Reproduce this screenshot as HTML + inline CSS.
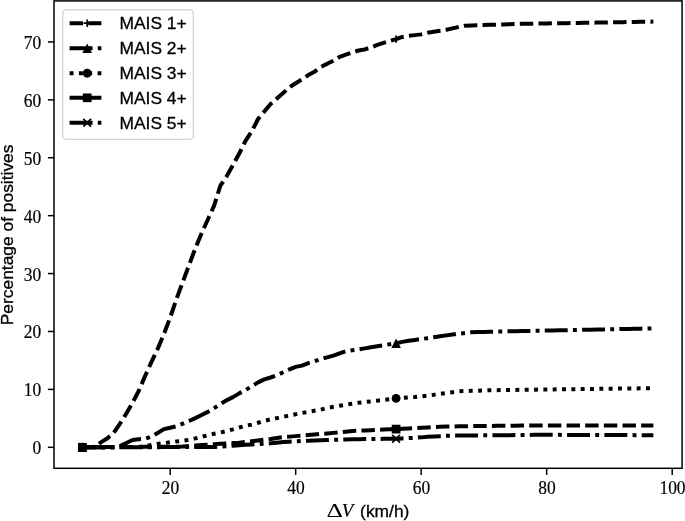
<!DOCTYPE html>
<html><head><meta charset="utf-8"><title>Percentage of positives</title>
<style>
html,body{margin:0;padding:0;background:#fff;overflow:hidden}
svg{display:block}
.t{font-family:"Liberation Serif","DejaVu Serif",serif;font-size:18.0px;fill:#000;stroke:#000;stroke-width:0.18px}
.s{font-family:"Liberation Sans","DejaVu Sans",sans-serif;font-size:17.4px;fill:#000;stroke:#000;stroke-width:0.3px}
.d{font-family:"Liberation Serif","DejaVu Serif",serif;font-size:18.8px;fill:#000}
.i{font-family:"Liberation Serif","DejaVu Serif",serif;font-size:18.8px;font-style:italic;fill:#000;stroke:#000;stroke-width:0.2px}
</style></head><body>
<svg width="685" height="521" viewBox="0 0 685 521">
<rect width="685" height="521" fill="#fff"/>
<g>
<path d="M82.35 447.30 L88.62 447.30 L94.90 446.77 L101.18 442.09 L107.45 438.25 L113.73 432.73 L120.00 423.60 L126.28 413.49 L132.55 402.85 L138.82 390.74 L145.10 375.97 L151.38 362.13 L157.65 348.94 L163.93 334.10 L170.20 317.41 L176.48 298.93 L182.75 282.01 L189.03 265.22 L195.30 248.45 L201.57 233.30 L207.85 219.54 L214.12 205.61 L220.40 185.63 L226.68 176.34 L232.95 165.00 L239.23 153.51 L245.50 140.78 L251.78 131.33 L258.05 119.03 L264.32 111.47 L270.60 104.00 L276.88 98.42 L283.15 93.07 L289.43 87.39 L295.70 83.22 L301.98 79.35 L308.25 75.06 L314.52 71.72 L320.80 67.12 L327.07 63.69 L333.35 60.74 L339.62 56.94 L345.90 54.72 L352.18 52.46 L358.45 50.53 L364.73 49.41 L371.00 47.40 L377.28 44.92 L383.55 42.92 L389.82 41.02 L396.10 39.16 L402.38 36.94 L408.65 35.89 L414.93 35.13 L421.20 34.37 L427.48 32.71 L433.75 31.77 L440.03 30.82 L446.30 29.81 L452.57 28.34 L458.85 26.88 L465.12 25.67 L471.40 25.46 L477.68 25.25 L483.95 25.05 L490.23 24.84 L496.50 24.63 L502.78 24.42 L509.05 24.22 L515.33 24.01 L521.60 23.85 L527.88 23.75 L534.15 23.65 L540.43 23.55 L546.70 23.45 L552.98 23.35 L559.25 23.25 L565.53 23.15 L571.80 23.05 L578.08 22.95 L584.35 22.85 L590.63 22.74 L596.90 22.62 L603.18 22.51 L609.45 22.40 L615.73 22.28 L622.00 22.17 L628.28 22.06 L634.55 21.94 L640.83 21.83 L647.10 21.71 L653.38 21.60" fill="none" stroke="#000" stroke-width="4.0" stroke-dasharray="13.424,5.232" stroke-dashoffset="1.0" stroke-linejoin="round"/>
<path d="M78.65 447.30H86.05M82.35 443.60V451.00" stroke="#000" stroke-width="1.7" fill="none"/>
<path d="M392.40 39.16H399.80M396.10 35.46V42.86" stroke="#000" stroke-width="1.7" fill="none"/>
<path d="M82.35 447.30 L88.62 447.30 L94.90 447.30 L101.18 447.30 L107.45 447.30 L113.73 447.30 L120.00 446.00 L126.28 443.00 L132.55 440.01 L138.82 439.23 L145.10 438.80 L151.38 436.70 L157.65 433.04 L163.93 429.09 L170.20 427.74 L176.48 426.22 L182.75 423.72 L189.03 421.01 L195.30 418.11 L201.57 414.99 L207.85 411.87 L214.12 408.15 L220.40 403.92 L226.68 400.26 L232.95 397.12 L239.23 393.37 L245.50 390.04 L251.78 386.35 L258.05 382.42 L264.32 379.38 L270.60 377.50 L276.88 375.20 L283.15 372.28 L289.43 369.39 L295.70 366.86 L301.98 365.66 L308.25 363.07 L314.52 361.31 L320.80 359.15 L327.07 357.34 L333.35 355.59 L339.62 353.31 L345.90 351.25 L352.18 350.33 L358.45 349.40 L364.73 348.35 L371.00 347.28 L377.28 346.20 L383.55 345.19 L389.82 344.23 L396.10 343.26 L402.38 341.85 L408.65 340.80 L414.93 339.92 L421.20 339.04 L427.48 338.16 L433.75 337.24 L440.03 336.30 L446.30 335.36 L452.57 334.43 L458.85 333.65 L465.12 332.93 L471.40 332.20 L477.68 332.05 L483.95 331.89 L490.23 331.74 L496.50 331.59 L502.78 331.44 L509.05 331.32 L515.33 331.19 L521.60 331.06 L527.88 330.94 L534.15 330.81 L540.43 330.68 L546.70 330.56 L552.98 330.43 L559.25 330.30 L565.53 330.18 L571.80 330.05 L578.08 329.92 L584.35 329.80 L590.63 329.67 L596.90 329.54 L603.18 329.41 L609.45 329.29 L615.73 329.16 L622.00 329.03 L628.28 328.91 L634.55 328.78 L640.83 328.65 L647.10 328.53 L653.38 328.40" fill="none" stroke="#000" stroke-width="4.0" stroke-dasharray="22.928,5.232,3.920,5.232" stroke-dashoffset="0" stroke-linejoin="round"/>
<path d="M82.35 442.50L87.15 452.10H77.55Z" fill="#000"/>
<path d="M396.10 338.46L400.90 348.06H391.30Z" fill="#000"/>
<path d="M82.35 447.30 L88.62 447.27 L94.90 447.24 L101.18 447.20 L107.45 447.17 L113.73 447.14 L120.00 447.10 L126.28 447.07 L132.55 447.04 L138.82 447.01 L145.10 446.12 L151.38 445.03 L157.65 443.95 L163.93 443.13 L170.20 442.30 L176.48 441.47 L182.75 440.65 L189.03 439.82 L195.30 438.42 L201.57 436.84 L207.85 435.25 L214.12 433.74 L220.40 432.48 L226.68 430.97 L232.95 429.35 L239.23 427.44 L245.50 425.92 L251.78 424.45 L258.05 422.71 L264.32 420.96 L270.60 419.33 L276.88 418.11 L283.15 416.88 L289.43 415.53 L295.70 414.18 L301.98 412.96 L308.25 411.85 L314.52 410.73 L320.80 409.62 L327.07 407.94 L333.35 406.82 L339.62 405.74 L345.90 404.69 L352.18 403.66 L358.45 402.73 L364.73 402.07 L371.00 401.41 L377.28 400.66 L383.55 399.90 L389.82 399.14 L396.10 398.39 L402.38 397.92 L408.65 397.46 L414.93 397.00 L421.20 396.32 L427.48 395.65 L433.75 394.86 L440.03 393.96 L446.30 393.06 L452.57 392.16 L458.85 391.26 L465.12 391.02 L471.40 390.83 L477.68 390.64 L483.95 390.45 L490.23 390.25 L496.50 390.14 L502.78 390.06 L509.05 389.97 L515.33 389.89 L521.60 389.80 L527.88 389.72 L534.15 389.64 L540.43 389.56 L546.70 389.48 L552.98 389.41 L559.25 389.33 L565.53 389.26 L571.80 389.18 L578.08 389.11 L584.35 389.03 L590.63 388.95 L596.90 388.88 L603.18 388.80 L609.45 388.73 L615.73 388.65 L622.00 388.58 L628.28 388.50 L634.55 388.43 L640.83 388.35 L647.10 388.28 L653.38 388.20" fill="none" stroke="#000" stroke-width="4.0" stroke-dasharray="3.920,5.408" stroke-dashoffset="0" stroke-linejoin="round"/>
<circle cx="82.35" cy="447.30" r="4.45" fill="#000"/>
<circle cx="396.10" cy="398.39" r="4.45" fill="#000"/>
<path d="M82.35 447.30 L88.62 447.26 L94.90 447.21 L101.18 447.17 L107.45 447.12 L113.73 447.08 L120.00 447.03 L126.28 446.99 L132.55 446.94 L138.82 446.90 L145.10 446.85 L151.38 446.81 L157.65 446.76 L163.93 446.72 L170.20 446.67 L176.48 446.63 L182.75 446.41 L189.03 445.98 L195.30 445.55 L201.57 445.12 L207.85 444.69 L214.12 444.26 L220.40 443.83 L226.68 443.45 L232.95 443.10 L239.23 442.65 L245.50 441.93 L251.78 441.17 L258.05 440.40 L264.32 439.65 L270.60 438.93 L276.88 437.97 L283.15 437.14 L289.43 436.63 L295.70 436.12 L301.98 435.58 L308.25 435.02 L314.52 434.48 L320.80 433.96 L327.07 433.44 L333.35 432.88 L339.62 432.26 L345.90 431.65 L352.18 431.07 L358.45 430.76 L364.73 430.45 L371.00 430.15 L377.28 429.88 L383.55 429.62 L389.82 429.35 L396.10 429.09 L402.38 428.76 L408.65 428.43 L414.93 428.10 L421.20 427.77 L427.48 427.42 L433.75 427.04 L440.03 426.65 L446.30 426.52 L452.57 426.43 L458.85 426.34 L465.12 426.24 L471.40 426.15 L477.68 426.06 L483.95 425.98 L490.23 425.91 L496.50 425.85 L502.78 425.78 L509.05 425.71 L515.33 425.65 L521.60 425.58 L527.88 425.52 L534.15 425.45 L540.43 425.40 L546.70 425.40 L552.98 425.40 L559.25 425.40 L565.53 425.40 L571.80 425.40 L578.08 425.40 L584.35 425.40 L590.63 425.40 L596.90 425.40 L603.18 425.40 L609.45 425.40 L615.73 425.40 L622.00 425.40 L628.28 425.40 L634.55 425.40 L640.83 425.40 L647.10 425.40 L653.38 425.40" fill="none" stroke="#000" stroke-width="4.0" stroke-dasharray="13.424,5.232" stroke-dashoffset="0" stroke-linejoin="round"/>
<rect x="78.00" y="442.95" width="8.70" height="8.70" fill="#000"/>
<rect x="391.75" y="424.74" width="8.70" height="8.70" fill="#000"/>
<path d="M82.35 447.30 L88.62 447.29 L94.90 447.27 L101.18 447.26 L107.45 447.24 L113.73 447.23 L120.00 447.22 L126.28 447.20 L132.55 447.19 L138.82 447.17 L145.10 447.16 L151.38 447.14 L157.65 447.13 L163.93 447.12 L170.20 447.10 L176.48 447.09 L182.75 447.07 L189.03 447.06 L195.30 447.04 L201.57 447.03 L207.85 447.02 L214.12 447.00 L220.40 446.61 L226.68 446.16 L232.95 445.71 L239.23 445.26 L245.50 444.86 L251.78 444.47 L258.05 444.09 L264.32 443.70 L270.60 443.31 L276.88 442.67 L283.15 442.11 L289.43 441.74 L295.70 441.36 L301.98 441.03 L308.25 440.72 L314.52 440.41 L320.80 440.18 L327.07 440.00 L333.35 439.82 L339.62 439.64 L345.90 439.46 L352.18 439.29 L358.45 439.21 L364.73 439.12 L371.00 439.04 L377.28 438.95 L383.55 438.87 L389.82 438.78 L396.10 438.69 L402.38 438.39 L408.65 438.09 L414.93 437.79 L421.20 437.37 L427.48 436.76 L433.75 436.45 L440.03 436.14 L446.30 435.84 L452.57 435.59 L458.85 435.54 L465.12 435.49 L471.40 435.44 L477.68 435.39 L483.95 435.34 L490.23 435.29 L496.50 435.24 L502.78 435.19 L509.05 435.13 L515.33 435.06 L521.60 434.99 L527.88 434.92 L534.15 434.85 L540.43 434.80 L546.70 434.83 L552.98 434.85 L559.25 434.87 L565.53 434.89 L571.80 434.91 L578.08 434.94 L584.35 434.96 L590.63 434.98 L596.90 435.00 L603.18 435.02 L609.45 435.05 L615.73 435.07 L622.00 435.09 L628.28 435.11 L634.55 435.13 L640.83 435.16 L647.10 435.18 L653.38 435.20" fill="none" stroke="#000" stroke-width="4.0" stroke-dasharray="22.928,5.232,3.920,5.232" stroke-dashoffset="0" stroke-linejoin="round"/>
<path d="M78.50 443.45L86.20 451.15M78.50 451.15L86.20 443.45" stroke="#000" stroke-width="1.7" fill="none"/>
<path d="M392.25 434.84L399.95 442.54M392.25 442.54L399.95 434.84" stroke="#000" stroke-width="1.7" fill="none"/>
</g>
<g>
<rect x="54.0" y="0.9" width="628.1" height="467.40000000000003" fill="none" stroke="#000" stroke-width="1.5"/>
<path d="M170.20 468.3V474.90000000000003" stroke="#000" stroke-width="1.5"/>
<text transform="translate(170.50 493.8) scale(0.97 1)" text-anchor="middle" class="t">20</text>
<path d="M295.70 468.3V474.90000000000003" stroke="#000" stroke-width="1.5"/>
<text transform="translate(296.00 493.8) scale(0.97 1)" text-anchor="middle" class="t">40</text>
<path d="M421.20 468.3V474.90000000000003" stroke="#000" stroke-width="1.5"/>
<text transform="translate(421.50 493.8) scale(0.97 1)" text-anchor="middle" class="t">60</text>
<path d="M546.70 468.3V474.90000000000003" stroke="#000" stroke-width="1.5"/>
<text transform="translate(547.00 493.8) scale(0.97 1)" text-anchor="middle" class="t">80</text>
<path d="M672.20 468.3V474.90000000000003" stroke="#000" stroke-width="1.5"/>
<text transform="translate(672.50 493.8) scale(0.97 1)" text-anchor="middle" class="t">100</text>
<path d="M54.0 447.30H47.9" stroke="#000" stroke-width="1.5"/>
<text transform="translate(41.3 454.30) scale(0.97 1)" text-anchor="end" class="t">0</text>
<path d="M54.0 389.39H47.9" stroke="#000" stroke-width="1.5"/>
<text transform="translate(41.3 396.39) scale(0.97 1)" text-anchor="end" class="t">10</text>
<path d="M54.0 331.48H47.9" stroke="#000" stroke-width="1.5"/>
<text transform="translate(41.3 338.48) scale(0.97 1)" text-anchor="end" class="t">20</text>
<path d="M54.0 273.57H47.9" stroke="#000" stroke-width="1.5"/>
<text transform="translate(41.3 280.57) scale(0.97 1)" text-anchor="end" class="t">30</text>
<path d="M54.0 215.66H47.9" stroke="#000" stroke-width="1.5"/>
<text transform="translate(41.3 222.66) scale(0.97 1)" text-anchor="end" class="t">40</text>
<path d="M54.0 157.75H47.9" stroke="#000" stroke-width="1.5"/>
<text transform="translate(41.3 164.75) scale(0.97 1)" text-anchor="end" class="t">50</text>
<path d="M54.0 99.84H47.9" stroke="#000" stroke-width="1.5"/>
<text transform="translate(41.3 106.84) scale(0.97 1)" text-anchor="end" class="t">60</text>
<path d="M54.0 41.93H47.9" stroke="#000" stroke-width="1.5"/>
<text transform="translate(41.3 48.93) scale(0.97 1)" text-anchor="end" class="t">70</text>
</g>
<text class="s" transform="translate(13.4 234.9) rotate(-90)" text-anchor="middle">Percentage of positives</text>
<text transform="translate(326.6 517.1) scale(1.36 1)" class="d">Δ</text>
<text transform="translate(341.8 517.1) scale(1 1)" class="i">V</text>
<text x="360.1" y="517.1" class="s">(km/h)</text>
<g>
<rect x="62.7" y="9.7" width="130.7" height="129.7" rx="3.5" ry="3.5" fill="#fff" fill-opacity="0.8" stroke="#ccc" stroke-opacity="0.8" stroke-width="1.4"/>
<path d="M69.6 23.2H101.4" stroke="#000" stroke-width="4.0" stroke-dasharray="13.424,5.232" fill="none"/>
<path d="M83.50 23.20H90.90M87.20 19.50V26.90" stroke="#000" stroke-width="1.7" fill="none"/>
<path d="M69.6 48.2H101.4" stroke="#000" stroke-width="4.0" stroke-dasharray="22.928,5.232,3.920,5.232" fill="none"/>
<path d="M87.20 43.40L92.00 53.00H82.40Z" fill="#000"/>
<path d="M69.6 73.2H101.4" stroke="#000" stroke-width="4.0" stroke-dasharray="3.920,5.408" fill="none"/>
<circle cx="87.20" cy="73.20" r="4.45" fill="#000"/>
<path d="M69.6 97.8H101.4" stroke="#000" stroke-width="4.0" stroke-dasharray="13.424,5.232" fill="none"/>
<rect x="82.85" y="93.45" width="8.70" height="8.70" fill="#000"/>
<path d="M69.6 122.8H101.4" stroke="#000" stroke-width="4.0" stroke-dasharray="22.928,5.232,3.920,5.232" fill="none"/>
<path d="M83.35 118.95L91.05 126.65M83.35 126.65L91.05 118.95" stroke="#000" stroke-width="1.7" fill="none"/>
<text x="119.5" y="29.40" class="s">MAIS 1+</text>
<text x="119.5" y="54.40" class="s">MAIS 2+</text>
<text x="119.5" y="79.40" class="s">MAIS 3+</text>
<text x="119.5" y="104.00" class="s">MAIS 4+</text>
<text x="119.5" y="129.00" class="s">MAIS 5+</text>
</g>
</svg>
</body></html>
